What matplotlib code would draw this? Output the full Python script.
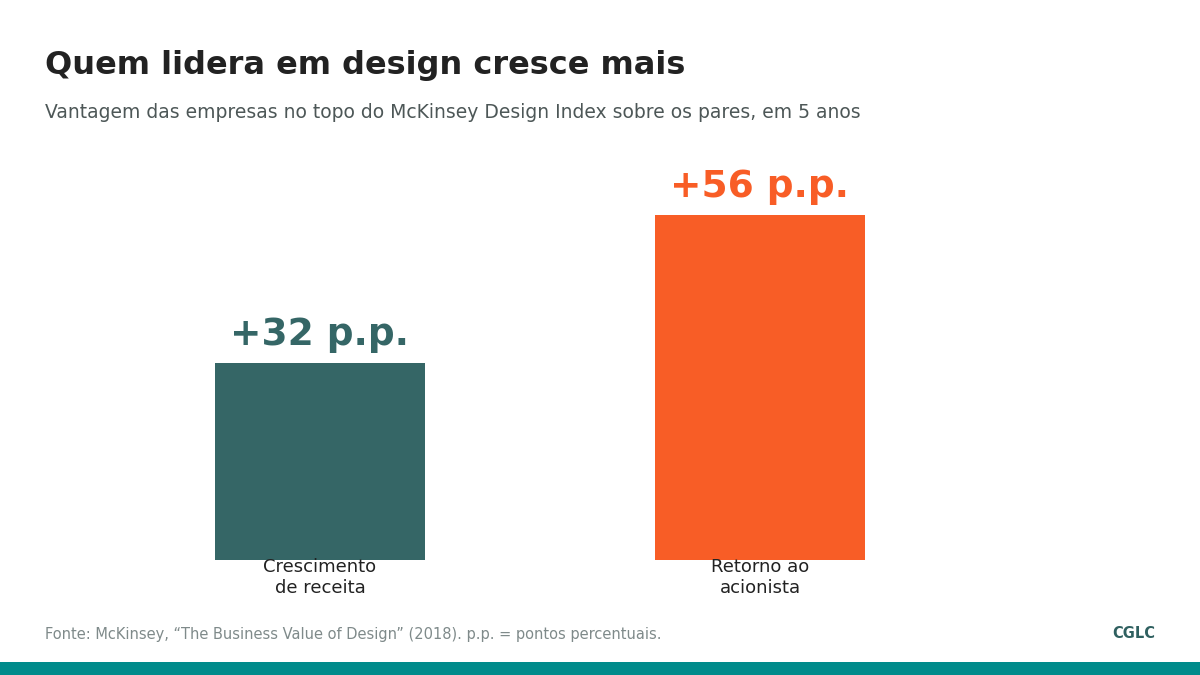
import matplotlib
matplotlib.use("Agg")
import matplotlib.pyplot as plt
from matplotlib.patches import Rectangle

categories = ["Crescimento\nde receita", "Retorno ao\nacionista"]
values = [32, 56]
value_labels = ["+32 p.p.", "+56 p.p."]
colors = ["#356666", "#f85d26"]

W, H = 1200, 675
fig = plt.figure(figsize=(W / 100, H / 100), dpi=100)
fig.patch.set_facecolor("white")

# axes: baseline at y=560px (from top), bar centers at 320 and 760 px
ax_left_px, ax_right_px = 100, 1100
ax_bottom_px, ax_top_px = 560, 150
ax = fig.add_axes([ax_left_px / W, (H - ax_bottom_px) / H,
                   (ax_right_px - ax_left_px) / W, (ax_bottom_px - ax_top_px) / H])
unit_px = 440.0
x0 = -(320 - ax_left_px) / unit_px
ax.set_xlim(x0, x0 + (ax_right_px - ax_left_px) / unit_px)
px_per_val = 345.0 / 56
ax.set_ylim(0, (ax_bottom_px - ax_top_px) / px_per_val)

xs = list(range(len(values)))
ax.bar(xs, values, width=210 / unit_px, color=colors, zorder=2)
for x, v, lab, c in zip(xs, values, value_labels, colors):
    ax.annotate(lab, (x, v), xytext=(0, 7), textcoords="offset points",
                ha="center", va="bottom", fontsize=27, fontweight="bold", color=c)
for x, cat in zip(xs, categories):
    ax.annotate(cat, (x, 0), xytext=(0, 1.5), textcoords="offset points",
                ha="center", va="top", fontsize=13, color="#222222", linespacing=1.25)
ax.axis("off")

fig.text(45 / W, 1 - 65.5 / H, "Quem lidera em design cresce mais", fontsize=23,
         fontweight="bold", color="#222222", ha="left", va="center")
fig.text(45 / W, 1 - 112 / H,
         "Vantagem das empresas no topo do McKinsey Design Index sobre os pares, em 5 anos",
         fontsize=13.5, color="#4d5757", ha="left", va="center")
fig.text(45 / W, 1 - 634 / H,
         "Fonte: McKinsey, \u201cThe Business Value of Design\u201d (2018). p.p. = pontos percentuais.",
         fontsize=10.5, color="#7f8a8a", ha="left", va="center")
fig.text(1155 / W, 1 - 634 / H, "CGLC", fontsize=10.5, fontweight="bold",
         color="#2f6060", ha="right", va="center")

fig.patches.append(Rectangle((0, 0), 1, 13 / H, transform=fig.transFigure,
                             facecolor="#008b8b", edgecolor="none"))

fig.savefig("out.png", dpi=100, facecolor="white")
